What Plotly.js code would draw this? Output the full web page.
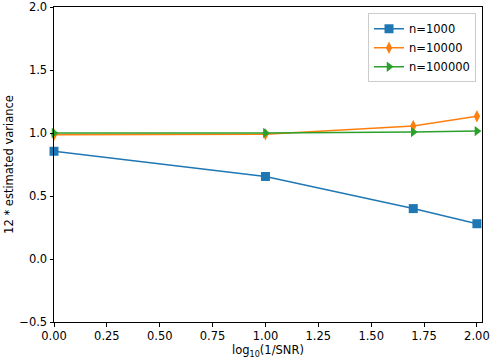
<!DOCTYPE html>
<html>
<head>
<meta charset="utf-8">
<script src="https://cdn.plot.ly/plotly-3.0.1.min.js"></script>
<style>
  html, body { margin: 0; padding: 0; background: #fff; }
  #chart { width: 490px; height: 360px; }
</style>
</head>
<body>
<div id="chart"></div>
<script>
// --- DATA ---
const logInvSnr = [0, 1, 1.69897, 2];
const var1000 = [0.855, 0.655, 0.40, 0.28];
const var10000 = [0.987, 0.99, 1.055, 1.133];
const var100000 = [1.0, 1.0, 1.007, 1.015];

const seriesNames = ['n=1000', 'n=10000', 'n=100000'];
const seriesColors = ['#1f77b4', '#ff7f0e', '#2ca02c'];
const seriesSymbols = ['square', 'diamond-tall', 'triangle-right'];
const yTicks = [-0.5, 0, 0.5, 1, 1.5, 2];
const xTicks = [0, 0.25, 0.5, 0.75, 1, 1.25, 1.5, 1.75, 2];

function makeTrace(y, i) {
    return {
        x: logInvSnr,
        y: y,
        name: seriesNames[i],
        type: 'scatter',
        mode: 'lines+markers',
        line: { color: seriesColors[i], width: 1.5 },
        marker: { color: seriesColors[i], symbol: seriesSymbols[i], size: 9 },
        cliponaxis: false
    };
}

const traces = [var1000, var10000, var100000].map(makeTrace);

const axisBase = {
    showgrid: false,
    zeroline: false,
    showline: true,
    mirror: true,
    linecolor: '#000',
    linewidth: 1,
    ticks: 'outside',
    ticklen: 3.5,
    tickwidth: 1,
    tickcolor: '#000',
    ticklabeloverflow: 'allow',
    tickfont: { family: 'DejaVu Sans', size: 11.5, color: '#000' }
};

const layout = {
    width: 490,
    height: 360,
    margin: { l: 54, r: 8, t: 7, b: 38 },
    paper_bgcolor: '#fff',
    plot_bgcolor: '#fff',
    font: { family: 'DejaVu Sans', size: 11.5, color: '#000' },
    xaxis: Object.assign({}, axisBase, {
        range: [0, 2.024],
        tickvals: xTicks,
        tickformat: '.2f',
        title: { text: 'log<sub>10</sub>(1/SNR)', font: { size: 11.5 }, standoff: 3 }
    }),
    yaxis: Object.assign({}, axisBase, {
        range: [-0.5, 2.0],
        tickvals: yTicks,
        tickformat: '.1f',
        title: { text: '12 * estimated variance', font: { size: 11.5 }, standoff: 3 }
    }),
    legend: {
        x: 0.986, y: 0.98,
        xanchor: 'right', yanchor: 'top',
        bgcolor: '#fff',
        bordercolor: '#ccc',
        borderwidth: 1,
        font: { size: 11.5 },
        tracegroupgap: 0
    },
    showlegend: true
};

Plotly.newPlot('chart', traces, layout, { staticPlot: true });
</script>
</body>
</html>
